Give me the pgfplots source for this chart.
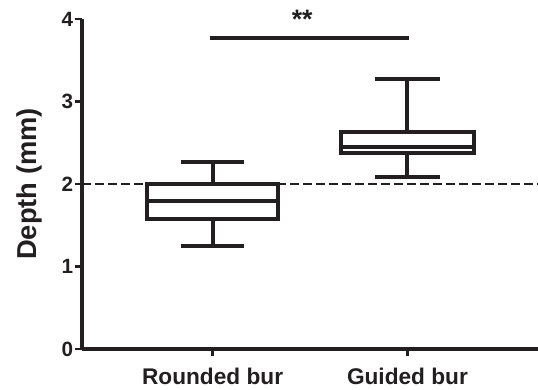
\documentclass[border=0pt]{standalone}
\usepackage{fontspec}
\setmainfont{Liberation Sans}
\usepackage{pgfplots}
\pgfplotsset{compat=1.18}
\usepgfplotslibrary{statistics}
\usetikzlibrary{calc}
\definecolor{ink}{RGB}{35,31,32}
\begin{document}
\begin{tikzpicture}
\begin{axis}[
  scale only axis,
  width=342pt, height=247.5pt,
  axis lines*=left,
  axis line style={-, line width=2.4pt, color=ink},
  xmin=-0.67, xmax=1.67,
  ymin=0, ymax=4,
  ytick={0,1,2,3,4},
  xtick={0,1},
  xticklabels={Rounded bur, Guided bur},
  tick align=outside,
  major tick length=5.5pt,
  tick style={line width=2pt, color=ink},
  /pgf/number format/assume math mode=true,
  yticklabel style={font=\fontsize{15.5}{15.5}\selectfont\bfseries, color=ink, inner sep=1pt},
  xticklabel style={font=\fontsize{17}{17}\selectfont\bfseries, color=ink, anchor=base, yshift=-21.5pt},
  ylabel={Depth (mm)},
  ylabel style={font=\fontsize{20.5}{20.5}\selectfont\bfseries, color=ink, at={(axis description cs:-0.099,0.5)}, anchor=base, rotate=0},
  boxplot/draw direction=y,
  clip=false,
]
\addplot[ink, line width=1pt, dash pattern=on 6.75pt off 3pt] coordinates {(-0.67,2) (1.67,2)};
\addplot[ink, line width=3pt, boxplot prepared={draw position=0, lower whisker=1.25, lower quartile=1.58, median=1.79, upper quartile=2.0, upper whisker=2.27, box extend=0.67, whisker extend=0.32}] coordinates {};
\addplot[ink, line width=3pt, boxplot prepared={draw position=1, lower whisker=2.09, lower quartile=2.37, median=2.45, upper quartile=2.635, upper whisker=3.27, box extend=0.68, whisker extend=0.33}] coordinates {};
\addplot[ink, line width=3pt] coordinates {(-0.015,3.77) (1.01,3.77)};
\node[font=\fontsize{20}{20}\selectfont\bfseries, color=ink, anchor=base] at (axis cs:0.46,3.88) {**};
\end{axis}
\pgfresetboundingbox
\path ($(current axis.south west)+(-61.5pt,-30.75pt)$) rectangle ($(current axis.north east)+(0pt,14.25pt)$);
\end{tikzpicture}
\end{document}
